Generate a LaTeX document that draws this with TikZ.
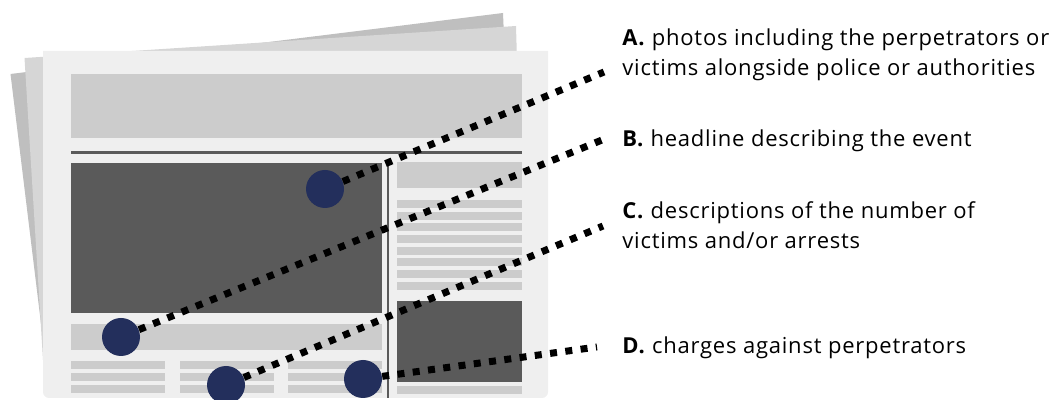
\documentclass[tikz,border=0pt]{standalone}
\usepackage{fontspec}
\setmainfont[LetterSpace=3.5]{Open Sans}
\usepackage{tikz}
\usetikzlibrary{positioning}

\definecolor{sheetback}{HTML}{BFBFBF}
\definecolor{sheetmid}{HTML}{D6D6D6}
\definecolor{sheetfront}{HTML}{EFEFEF}
\definecolor{lightblock}{HTML}{CCCCCC}
\definecolor{darkblock}{HTML}{5A5A5A}
\definecolor{marker}{HTML}{232F5C}

\begin{document}
\begin{tikzpicture}
        [
            x=0.5pt, y=-0.5pt,
            lightbox/.style={fill=lightblock},
            darkbox/.style={fill=darkblock},
            dot/.style={circle, fill=marker, minimum size=19pt, inner sep=0pt},
            leader/.style={line width=3.5pt, dash pattern=on 3.5pt off 4.2pt},
            note/.style={anchor=north west, align=left, inner sep=0pt, font=\fontsize{11}{15}\selectfont},
        ]
        \useasboundingbox (0,0) rectangle (1055,400);
        % sheets behind
        \fill[sheetback] (10.5,74) -- (503,13) -- (505,60) -- (43,340) -- cycle;
        \fill[sheetmid] (24.5,58) -- (516,26) -- (517,60) -- (43,360) -- cycle;
        \fill[sheetfront] (43,51) -- (548,51) {[rounded corners=3pt] -- (548,398) -- (43,398)} -- cycle;
        % page content
        \fill[lightbox] (71,74) rectangle (522,138);
        \fill[darkbox] (71,151) rectangle (522,154);
        \fill[darkbox] (71,163) rectangle (382,313);
        \fill[darkbox] (387,163) rectangle (389,398);
        \fill[lightbox] (71,324) rectangle (382,350);
        \foreach \x in {71,180,288}
            \foreach \y in {361,373,385}
                \fill[lightbox] (\x,\y) rectangle ++(94,8);
        \fill[lightbox] (397,162) rectangle (522,188);
        \foreach \i in {0,...,7}
            \fill[lightbox] (397,200+11.7*\i) rectangle ++(125,8);
        \fill[darkbox] (397,301) rectangle (522,382);
        \fill[lightbox] (397,386) rectangle (522,394);
        % markers
        \node[dot] (ma) at (325,189){};
        \node[dot] (mb) at (121,337){};
        \node[dot] (mc) at (226,385){};
        \node[dot] (md) at (363,379){};
        \coordinate (ea) at (604,72);
        \coordinate (eb) at (602,140);
        \coordinate (ec) at (603,226);
        \coordinate (ed) at (597,347);
        \draw[leader] (ma) -- (ea);
        \draw[leader] (mb) -- (eb);
        \draw[leader] (mc) -- (ec);
        \draw[leader] (md) -- (ed);
        % labels
        \node[note] (ta) at (622,28.5){\textbf{A.} photos including the perpetrators or\\victims alongside police or authorities};
        \node[note] (tb) at (622,129.5){\textbf{B.} headline describing the event};
        \node[note] (tc) at (622,201.5){\textbf{C.} descriptions of the number of\\victims and/or arrests};
        \node[note] (td) at (622,336.5){\textbf{D.} charges against perpetrators};
      \end{tikzpicture}
\end{document}
